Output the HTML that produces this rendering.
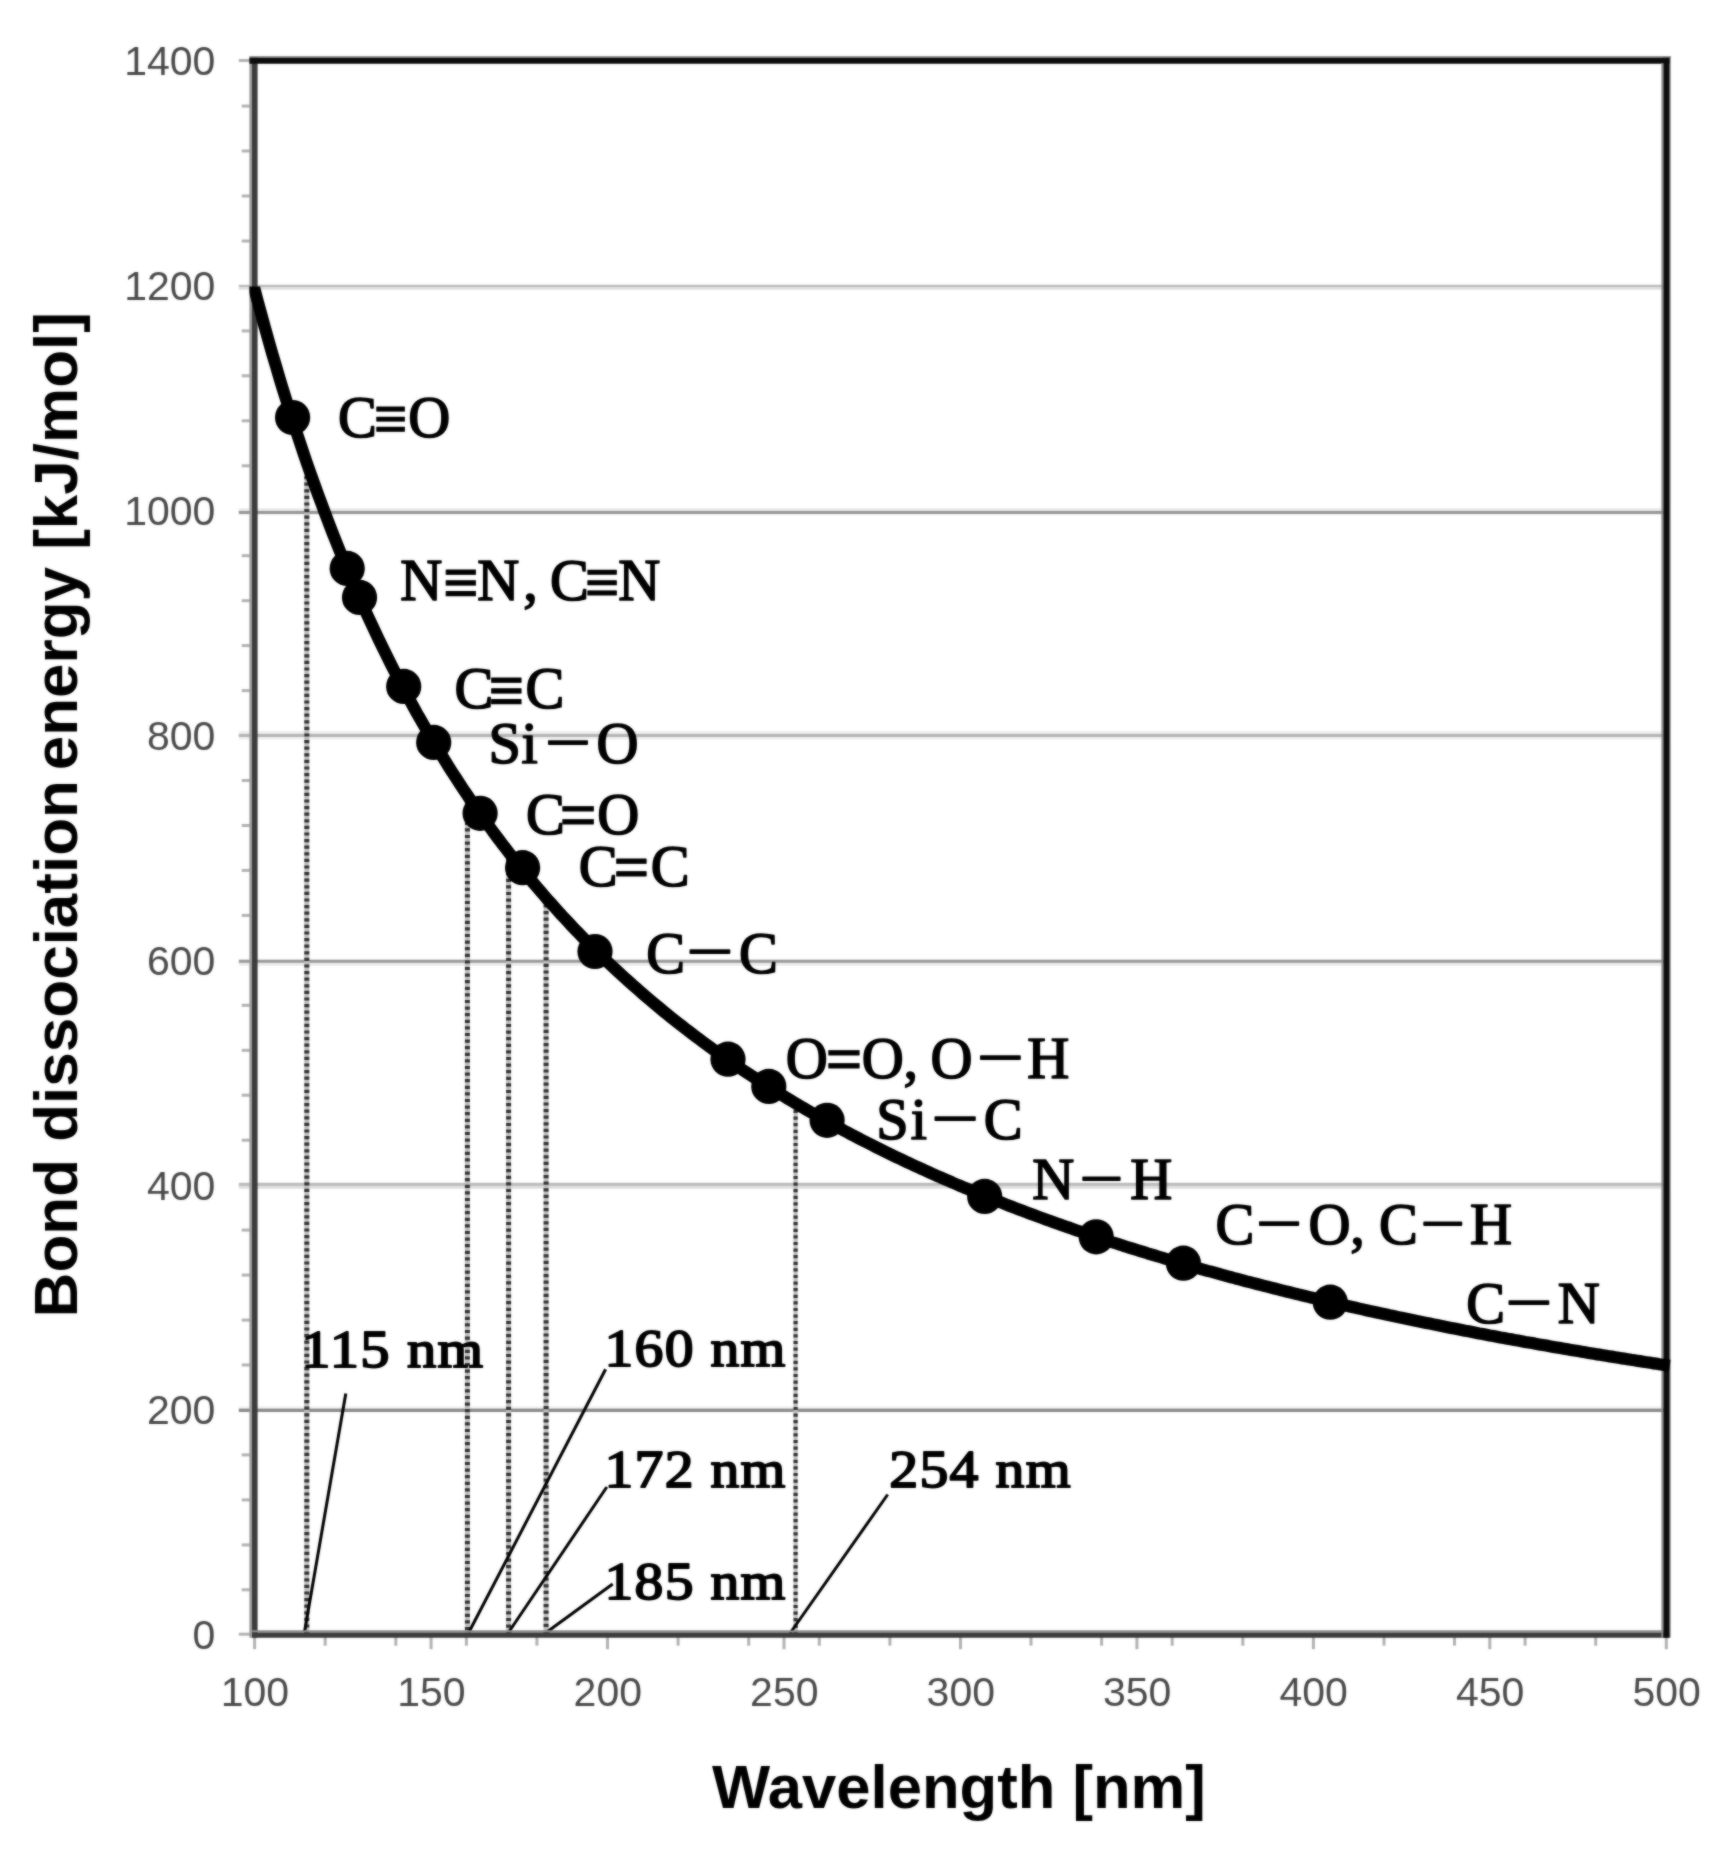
<!DOCTYPE html>
<html lang="en"><head><meta charset="utf-8"><title>Bond dissociation energy vs wavelength</title>
<style>html,body{margin:0;padding:0;background:#fff}svg{display:block}.tk{font-family:"Liberation Sans",sans-serif;font-size:41px;fill:#4a4a4a}.ttl{font-family:"Liberation Sans",sans-serif;font-weight:bold;font-size:62px;fill:#000}.bond{font-family:"Liberation Serif",serif;font-size:58.2px;fill:#000;stroke:#000;stroke-width:1.7px;stroke-linejoin:round}.nm{font-family:"Liberation Serif",serif;font-size:53px;fill:#000;stroke:#000;stroke-width:1.9px;stroke-linejoin:round}</style></head><body>
<svg width="1732" height="1856" viewBox="0 0 1732 1856">
<rect width="1732" height="1856" fill="#fff"/>
<defs><filter id="soft" x="0" y="0" width="1732" height="1856" filterUnits="userSpaceOnUse" color-interpolation-filters="sRGB"><feGaussianBlur in="SourceGraphic" stdDeviation="0.8" result="b"/><feComposite in="SourceGraphic" in2="b" operator="arithmetic" k1="0" k2="0.45" k3="0.55" k4="0"/></filter></defs>
<g id="chart" filter="url(#soft)">
<rect width="1732" height="1856" fill="#fff"/>
<g id="grid">
<rect x="238.8" y="1406.2" width="1427.5" height="2.4" fill="#f4f4f4"/>
<rect x="238.8" y="1408.6" width="1427.5" height="3.4" fill="#8b8b8b"/>
<rect x="238.8" y="1182.8" width="1427.5" height="3.1" fill="#bababa"/>
<rect x="238.8" y="1185.9" width="1427.5" height="2.8" fill="#dedede"/>
<rect x="238.8" y="959.7" width="1427.5" height="3.2" fill="#999999"/>
<rect x="238.8" y="962.9" width="1427.5" height="2.9" fill="#ececec"/>
<rect x="238.8" y="731.0" width="1427.5" height="2.9" fill="#efefef"/>
<rect x="238.8" y="733.9" width="1427.5" height="3.1" fill="#b4b4b4"/>
<rect x="238.8" y="737.0" width="1427.5" height="2.6" fill="#efefef"/>
<rect x="238.8" y="508.0" width="1427.5" height="2.9" fill="#ededed"/>
<rect x="238.8" y="510.9" width="1427.5" height="3.2" fill="#979797"/>
<rect x="238.8" y="284.8" width="1427.5" height="2.3" fill="#bababa"/>
<rect x="238.8" y="287.1" width="1427.5" height="2.6" fill="#dedede"/>
</g>
<g id="ticks" stroke="#b2b2b2" stroke-width="3">
<line x1="238.8" x2="254.6" y1="1634.2" y2="1634.2"/>
<line x1="241.7" x2="254.6" y1="1589.8" y2="1589.8"/>
<line x1="241.7" x2="254.6" y1="1544.9" y2="1544.9"/>
<line x1="241.7" x2="254.6" y1="1499.9" y2="1499.9"/>
<line x1="241.7" x2="254.6" y1="1454.9" y2="1454.9"/>
<line x1="241.7" x2="254.6" y1="1365.0" y2="1365.0"/>
<line x1="241.7" x2="254.6" y1="1320.1" y2="1320.1"/>
<line x1="241.7" x2="254.6" y1="1275.1" y2="1275.1"/>
<line x1="241.7" x2="254.6" y1="1230.1" y2="1230.1"/>
<line x1="241.7" x2="254.6" y1="1140.2" y2="1140.2"/>
<line x1="241.7" x2="254.6" y1="1095.2" y2="1095.2"/>
<line x1="241.7" x2="254.6" y1="1050.3" y2="1050.3"/>
<line x1="241.7" x2="254.6" y1="1005.3" y2="1005.3"/>
<line x1="241.7" x2="254.6" y1="915.4" y2="915.4"/>
<line x1="241.7" x2="254.6" y1="870.4" y2="870.4"/>
<line x1="241.7" x2="254.6" y1="825.5" y2="825.5"/>
<line x1="241.7" x2="254.6" y1="780.5" y2="780.5"/>
<line x1="241.7" x2="254.6" y1="690.6" y2="690.6"/>
<line x1="241.7" x2="254.6" y1="645.6" y2="645.6"/>
<line x1="241.7" x2="254.6" y1="600.7" y2="600.7"/>
<line x1="241.7" x2="254.6" y1="555.7" y2="555.7"/>
<line x1="241.7" x2="254.6" y1="465.8" y2="465.8"/>
<line x1="241.7" x2="254.6" y1="420.8" y2="420.8"/>
<line x1="241.7" x2="254.6" y1="375.8" y2="375.8"/>
<line x1="241.7" x2="254.6" y1="330.9" y2="330.9"/>
<line x1="241.7" x2="254.6" y1="241.0" y2="241.0"/>
<line x1="241.7" x2="254.6" y1="196.0" y2="196.0"/>
<line x1="241.7" x2="254.6" y1="151.0" y2="151.0"/>
<line x1="241.7" x2="254.6" y1="106.1" y2="106.1"/>
<line x1="238.8" x2="254.6" y1="60.5" y2="60.5"/>
<line x1="254.6" x2="254.6" y1="1634.2" y2="1649.2"/>
<line x1="325.2" x2="325.2" y1="1634.2" y2="1645.7"/>
<line x1="395.8" x2="395.8" y1="1634.2" y2="1645.7"/>
<line x1="431.1" x2="431.1" y1="1634.2" y2="1649.2"/>
<line x1="466.4" x2="466.4" y1="1634.2" y2="1645.7"/>
<line x1="536.9" x2="536.9" y1="1634.2" y2="1645.7"/>
<line x1="607.5" x2="607.5" y1="1634.2" y2="1649.2"/>
<line x1="678.1" x2="678.1" y1="1634.2" y2="1645.7"/>
<line x1="748.7" x2="748.7" y1="1634.2" y2="1645.7"/>
<line x1="784.0" x2="784.0" y1="1634.2" y2="1649.2"/>
<line x1="819.3" x2="819.3" y1="1634.2" y2="1645.7"/>
<line x1="889.9" x2="889.9" y1="1634.2" y2="1645.7"/>
<line x1="960.5" x2="960.5" y1="1634.2" y2="1649.2"/>
<line x1="1031.0" x2="1031.0" y1="1634.2" y2="1645.7"/>
<line x1="1101.6" x2="1101.6" y1="1634.2" y2="1645.7"/>
<line x1="1136.9" x2="1136.9" y1="1634.2" y2="1649.2"/>
<line x1="1172.2" x2="1172.2" y1="1634.2" y2="1645.7"/>
<line x1="1242.8" x2="1242.8" y1="1634.2" y2="1645.7"/>
<line x1="1313.4" x2="1313.4" y1="1634.2" y2="1649.2"/>
<line x1="1384.0" x2="1384.0" y1="1634.2" y2="1645.7"/>
<line x1="1454.5" x2="1454.5" y1="1634.2" y2="1645.7"/>
<line x1="1489.8" x2="1489.8" y1="1634.2" y2="1649.2"/>
<line x1="1525.1" x2="1525.1" y1="1634.2" y2="1645.7"/>
<line x1="1595.7" x2="1595.7" y1="1634.2" y2="1645.7"/>
<line x1="1666.3" x2="1666.3" y1="1634.2" y2="1649.2"/>
</g>
<g id="dots-under" stroke="#c2c2c2" fill="none">
<line x1="306.8" x2="306.8" y1="462.8" y2="1634.2" stroke-width="5.0"/>
<line x1="467.4" x2="467.4" y1="795.3" y2="1634.2" stroke-width="5.0"/>
<line x1="508.6" x2="508.6" y1="852.3" y2="1634.2" stroke-width="5.0"/>
<line x1="546.1" x2="546.1" y1="897.8" y2="1634.2" stroke-width="5.0"/>
<line x1="795.6" x2="795.6" y1="1103.3" y2="1634.2" stroke-width="4.2"/>
</g>
<g id="dots" stroke="#303030" stroke-dasharray="3.2 3.4" fill="none">
<line x1="306.8" x2="306.8" y1="462.8" y2="1634.2" stroke-width="5.0"/>
<line x1="467.4" x2="467.4" y1="795.3" y2="1634.2" stroke-width="5.0"/>
<line x1="508.6" x2="508.6" y1="852.3" y2="1634.2" stroke-width="5.0"/>
<line x1="546.1" x2="546.1" y1="897.8" y2="1634.2" stroke-width="5.0"/>
<line x1="795.6" x2="795.6" y1="1103.3" y2="1634.2" stroke-width="4.2"/>
</g>
<g id="leaders" stroke="#000" stroke-width="3" stroke-linecap="butt">
<line x1="345.8" y1="1393.5" x2="304.5" y2="1632"/>
<line x1="605.6" y1="1369.3" x2="469" y2="1632"/>
<line x1="606.8" y1="1487" x2="508.8" y2="1632"/>
<line x1="612.7" y1="1584" x2="546.9" y2="1632"/>
<line x1="887.7" y1="1494.5" x2="790.2" y2="1633"/>
</g>
<g id="frame" fill="none">
<line x1="250.7" x2="250.7" y1="57.5" y2="1637.7" stroke="#9a9a9a" stroke-width="2.6"/>
<line x1="254.8" x2="254.8" y1="57.5" y2="1637.7" stroke="#3c3c3c" stroke-width="5.6"/>
<line x1="252" x2="1669.3" y1="1631.4" y2="1631.4" stroke="#8c8c8c" stroke-width="2.4"/>
<line x1="252" x2="1669.3" y1="1635.1" y2="1635.1" stroke="#3c3c3c" stroke-width="5.2"/>
<line x1="249.4" x2="1671.0" y1="57.0" y2="57.0" stroke="#7a7a7a" stroke-width="1.4"/>
<line x1="249.4" x2="1671.0" y1="60.7" y2="60.7" stroke="#0c0c0c" stroke-width="6.0"/>
<line x1="1662.4" x2="1662.4" y1="63" y2="1637.7" stroke="#8a8a8a" stroke-width="2.0"/>
<line x1="1670.2" x2="1670.2" y1="57.7" y2="1637.7" stroke="#b0b0b0" stroke-width="1.6"/>
<line x1="1666.5" x2="1666.5" y1="57.7" y2="1637.7" stroke="#0c0c0c" stroke-width="6.2"/>
</g>
<clipPath id="cp"><rect x="249.4" y="286.6" width="1421.4" height="1350"/></clipPath>
<path id="dataline" clip-path="url(#cp)" d="M240.5,233.5 L244.0,247.9 L247.5,262.1 L251.1,275.9 L254.6,289.5 L258.1,302.8 L261.7,315.9 L265.2,328.7 L268.7,341.2 L272.2,353.5 L275.8,365.6 L279.3,377.5 L282.8,389.1 L286.4,400.5 L289.9,411.8 L293.4,422.8 L297.0,433.6 L300.5,444.2 L304.0,454.6 L307.5,464.9 L311.1,475.0 L314.6,484.9 L318.1,494.6 L321.7,504.2 L325.2,513.6 L328.7,522.9 L332.2,532.0 L335.8,541.0 L339.3,549.8 L342.8,558.4 L346.4,567.0 L349.9,575.4 L353.4,583.7 L356.9,591.8 L360.5,599.8 L364.0,607.7 L367.5,615.5 L371.1,623.2 L374.6,630.7 L378.1,638.1 L381.7,645.5 L385.2,652.7 L388.7,659.8 L392.2,666.8 L395.8,673.7 L399.3,680.5 L402.8,687.2 L406.4,693.9 L409.9,700.4 L413.4,706.8 L416.9,713.2 L420.5,719.4 L424.0,725.6 L427.5,731.7 L431.1,737.7 L434.6,743.7 L438.1,749.5 L441.7,755.3 L445.2,761.0 L448.7,766.7 L452.2,772.2 L455.8,777.7 L459.3,783.1 L462.8,788.5 L466.4,793.8 L469.9,799.0 L473.4,804.1 L476.9,809.2 L480.5,814.3 L484.0,819.2 L487.5,824.1 L491.1,829.0 L494.6,833.8 L498.1,838.5 L501.6,843.2 L505.2,847.8 L508.7,852.4 L512.2,856.9 L515.8,861.4 L519.3,865.8 L522.8,870.2 L526.4,874.5 L529.9,878.8 L533.4,883.0 L536.9,887.1 L540.5,891.3 L544.0,895.4 L547.5,899.4 L551.1,903.4 L554.6,907.3 L558.1,911.2 L561.6,915.1 L565.2,918.9 L568.7,922.7 L572.2,926.5 L575.8,930.2 L579.3,933.8 L582.8,937.5 L586.3,941.1 L589.9,944.6 L593.4,948.1 L596.9,951.6 L600.5,955.1 L604.0,958.5 L607.5,961.9 L611.1,965.2 L614.6,968.5 L618.1,971.8 L621.6,975.0 L625.2,978.3 L628.7,981.4 L632.2,984.6 L635.8,987.7 L639.3,990.8 L642.8,993.9 L646.3,996.9 L649.9,999.9 L653.4,1002.9 L656.9,1005.8 L660.5,1008.8 L664.0,1011.7 L667.5,1014.5 L671.1,1017.4 L674.6,1020.2 L678.1,1023.0 L681.6,1025.7 L685.2,1028.5 L688.7,1031.2 L692.2,1033.9 L695.8,1036.6 L699.3,1039.2 L702.8,1041.8 L706.3,1044.4 L709.9,1047.0 L713.4,1049.6 L716.9,1052.1 L720.5,1054.6 L724.0,1057.1 L727.5,1059.5 L731.0,1062.0 L734.6,1064.4 L738.1,1066.8 L741.6,1069.2 L745.2,1071.6 L748.7,1073.9 L752.2,1076.2 L755.8,1078.5 L759.3,1080.8 L762.8,1083.1 L766.3,1085.3 L769.9,1087.6 L773.4,1089.8 L776.9,1092.0 L780.5,1094.2 L784.0,1096.3 L787.5,1098.5 L791.0,1100.6 L794.6,1102.7 L798.1,1104.8 L801.6,1106.9 L805.2,1108.9 L808.7,1111.0 L812.2,1113.0 L815.8,1115.0 L819.3,1117.0 L822.8,1119.0 L826.3,1121.0 L829.9,1122.9 L833.4,1124.8 L836.9,1126.8 L840.5,1128.7 L844.0,1130.6 L847.5,1132.4 L851.0,1134.3 L854.6,1136.2 L858.1,1138.0 L861.6,1139.8 L865.2,1141.6 L868.7,1143.4 L872.2,1145.2 L875.7,1147.0 L879.3,1148.8 L882.8,1150.5 L886.3,1152.2 L889.9,1154.0 L893.4,1155.7 L896.9,1157.4 L900.5,1159.0 L904.0,1160.7 L907.5,1162.4 L911.0,1164.0 L914.6,1165.7 L918.1,1167.3 L921.6,1168.9 L925.2,1170.5 L928.7,1172.1 L932.2,1173.7 L935.7,1175.3 L939.3,1176.8 L942.8,1178.4 L946.3,1179.9 L949.9,1181.4 L953.4,1183.0 L956.9,1184.5 L960.5,1186.0 L964.0,1187.5 L967.5,1188.9 L971.0,1190.4 L974.6,1191.9 L978.1,1193.3 L981.6,1194.8 L985.2,1196.2 L988.7,1197.6 L992.2,1199.0 L995.7,1200.4 L999.3,1201.8 L1002.8,1203.2 L1006.3,1204.6 L1009.9,1206.0 L1013.4,1207.3 L1016.9,1208.7 L1020.4,1210.0 L1024.0,1211.3 L1027.5,1212.7 L1031.0,1214.0 L1034.6,1215.3 L1038.1,1216.6 L1041.6,1217.9 L1045.2,1219.2 L1048.7,1220.4 L1052.2,1221.7 L1055.7,1223.0 L1059.3,1224.2 L1062.8,1225.5 L1066.3,1226.7 L1069.9,1227.9 L1073.4,1229.2 L1076.9,1230.4 L1080.4,1231.6 L1084.0,1232.8 L1087.5,1234.0 L1091.0,1235.2 L1094.6,1236.4 L1098.1,1237.5 L1101.6,1238.7 L1105.1,1239.9 L1108.7,1241.0 L1112.2,1242.2 L1115.7,1243.3 L1119.3,1244.4 L1122.8,1245.6 L1126.3,1246.7 L1129.9,1247.8 L1133.4,1248.9 L1136.9,1250.0 L1140.4,1251.1 L1144.0,1252.2 L1147.5,1253.3 L1151.0,1254.3 L1154.6,1255.4 L1158.1,1256.5 L1161.6,1257.5 L1165.1,1258.6 L1168.7,1259.6 L1172.2,1260.7 L1175.7,1261.7 L1179.3,1262.7 L1182.8,1263.8 L1186.3,1264.8 L1189.9,1265.8 L1193.4,1266.8 L1196.9,1267.8 L1200.4,1268.8 L1204.0,1269.8 L1207.5,1270.8 L1211.0,1271.7 L1214.6,1272.7 L1218.1,1273.7 L1221.6,1274.7 L1225.1,1275.6 L1228.7,1276.6 L1232.2,1277.5 L1235.7,1278.5 L1239.3,1279.4 L1242.8,1280.3 L1246.3,1281.3 L1249.8,1282.2 L1253.4,1283.1 L1256.9,1284.0 L1260.4,1284.9 L1264.0,1285.8 L1267.5,1286.7 L1271.0,1287.6 L1274.6,1288.5 L1278.1,1289.4 L1281.6,1290.3 L1285.1,1291.2 L1288.7,1292.0 L1292.2,1292.9 L1295.7,1293.8 L1299.3,1294.6 L1302.8,1295.5 L1306.3,1296.3 L1309.8,1297.2 L1313.4,1298.0 L1316.9,1298.9 L1320.4,1299.7 L1324.0,1300.5 L1327.5,1301.4 L1331.0,1302.2 L1334.6,1303.0 L1338.1,1303.8 L1341.6,1304.6 L1345.1,1305.4 L1348.7,1306.2 L1352.2,1307.0 L1355.7,1307.8 L1359.3,1308.6 L1362.8,1309.4 L1366.3,1310.2 L1369.8,1311.0 L1373.4,1311.7 L1376.9,1312.5 L1380.4,1313.3 L1384.0,1314.0 L1387.5,1314.8 L1391.0,1315.6 L1394.5,1316.3 L1398.1,1317.1 L1401.6,1317.8 L1405.1,1318.5 L1408.7,1319.3 L1412.2,1320.0 L1415.7,1320.8 L1419.3,1321.5 L1422.8,1322.2 L1426.3,1322.9 L1429.8,1323.6 L1433.4,1324.4 L1436.9,1325.1 L1440.4,1325.8 L1444.0,1326.5 L1447.5,1327.2 L1451.0,1327.9 L1454.5,1328.6 L1458.1,1329.3 L1461.6,1330.0 L1465.1,1330.7 L1468.7,1331.3 L1472.2,1332.0 L1475.7,1332.7 L1479.2,1333.4 L1482.8,1334.0 L1486.3,1334.7 L1489.8,1335.4 L1493.4,1336.0 L1496.9,1336.7 L1500.4,1337.4 L1504.0,1338.0 L1507.5,1338.7 L1511.0,1339.3 L1514.5,1340.0 L1518.1,1340.6 L1521.6,1341.2 L1525.1,1341.9 L1528.7,1342.5 L1532.2,1343.1 L1535.7,1343.8 L1539.2,1344.4 L1542.8,1345.0 L1546.3,1345.6 L1549.8,1346.3 L1553.4,1346.9 L1556.9,1347.5 L1560.4,1348.1 L1564.0,1348.7 L1567.5,1349.3 L1571.0,1349.9 L1574.5,1350.5 L1578.1,1351.1 L1581.6,1351.7 L1585.1,1352.3 L1588.7,1352.9 L1592.2,1353.5 L1595.7,1354.1 L1599.2,1354.6 L1602.8,1355.2 L1606.3,1355.8 L1609.8,1356.4 L1613.4,1356.9 L1616.9,1357.5 L1620.4,1358.1 L1623.9,1358.6 L1627.5,1359.2 L1631.0,1359.8 L1634.5,1360.3 L1638.1,1360.9 L1641.6,1361.4 L1645.1,1362.0 L1648.7,1362.5 L1652.2,1363.1 L1655.7,1363.6 L1659.2,1364.2 L1662.8,1364.7 L1666.3,1365.3 L1669.8,1365.8" fill="none" stroke="#000" stroke-width="12.2" stroke-linejoin="round" stroke-linecap="butt"/>
<g id="markers" fill="#000">
<circle cx="292.6" cy="417.5" r="17.6"/>
<circle cx="347.2" cy="568.4" r="17.6"/>
<circle cx="359.5" cy="597.4" r="17.6"/>
<circle cx="403.7" cy="686.4" r="17.6"/>
<circle cx="433.7" cy="742.4" r="17.6"/>
<circle cx="480.1" cy="813.3" r="17.6"/>
<circle cx="522.6" cy="867.7" r="17.6"/>
<circle cx="595.0" cy="951.5" r="17.6"/>
<circle cx="728.0" cy="1059.2" r="17.6"/>
<circle cx="768.8" cy="1086.4" r="17.6"/>
<circle cx="827.1" cy="1120.3" r="17.6"/>
<circle cx="984.7" cy="1196.4" r="17.6"/>
<circle cx="1096.2" cy="1236.8" r="17.6"/>
<circle cx="1183.4" cy="1263.2" r="17.6"/>
<circle cx="1330.3" cy="1302.2" r="17.6"/>
</g>
<g id="ylabels" class="tk" text-anchor="end">
<text x="215.4" y="1649.1">0</text>
<text x="215.4" y="1424.3">200</text>
<text x="215.4" y="1199.5">400</text>
<text x="215.4" y="974.7">600</text>
<text x="215.4" y="749.8">800</text>
<text x="215.4" y="525.0">1000</text>
<text x="215.4" y="300.2">1200</text>
<text x="215.4" y="75.4">1400</text>
</g>
<g id="xlabels" class="tk" text-anchor="middle">
<text x="254.9" y="1705.8">100</text>
<text x="431.4" y="1705.8">150</text>
<text x="607.8" y="1705.8">200</text>
<text x="784.3" y="1705.8">250</text>
<text x="960.8" y="1705.8">300</text>
<text x="1137.2" y="1705.8">350</text>
<text x="1313.7" y="1705.8">400</text>
<text x="1490.1" y="1705.8">450</text>
<text x="1666.6" y="1705.8">500</text>
</g>
<text id="xtitle" class="ttl" transform="translate(712,1807.6) scale(0.9935,1)" x="0" y="0">Wavelength [nm]</text>
<text id="ytitle" class="ttl" transform="translate(77,1313.2) rotate(-90)" x="-4.2" y="0">Bond dissociation<tspan dx="-7.5"> energy [kJ/mol]</tspan></text>
<g id="bonds" class="bond">
<text y="436.9"><tspan x="338.0" y="436.9">C</tspan><tspan x="373.8" y="439.2" font-size="59.8" font-weight="bold" stroke-width="0.8">≡</tspan><tspan x="408.2" y="436.9">O</tspan></text>
<text y="600.0"><tspan x="400.3" y="600.0">N</tspan><tspan x="442.9" y="603.5" font-size="63.5" font-weight="bold" stroke-width="0.8">≡</tspan><tspan x="477.3" y="600.0">N</tspan><tspan x="523.2" y="600.0">,</tspan><tspan x="550.0" y="600.0">C</tspan><tspan x="584.8" y="602.8" font-size="61.5" font-weight="bold" stroke-width="0.8">≡</tspan><tspan x="618.2" y="600.0">N</tspan></text>
<text y="708.1"><tspan x="454.6" y="708.1">C</tspan><tspan x="488.5" y="711.6" font-size="63.5" font-weight="bold" stroke-width="0.8">≡</tspan><tspan x="525.6" y="708.1">C</tspan></text>
<text y="763.3"><tspan x="488.6" y="763.3">S</tspan><tspan x="521.6" y="763.3">i</tspan><tspan x="549.2" y="752.0" font-size="37.5" font-weight="bold" stroke-width="2.0">—</tspan><tspan x="596.6" y="763.3">O</tspan></text>
<text y="833.8"><tspan x="526.0" y="833.8">C</tspan><tspan x="559.6" y="837.1" font-size="66.0" font-weight="bold" stroke-width="0.8">=</tspan><tspan x="597.2" y="833.8">O</tspan></text>
<text y="886.3"><tspan x="578.8" y="886.3">C</tspan><tspan x="613.5" y="888.8" font-size="63.5" font-weight="bold" stroke-width="0.8">=</tspan><tspan x="650.7" y="886.3">C</tspan></text>
<text y="972.5"><tspan x="646.3" y="972.5">C</tspan><tspan x="690.7" y="961.4" font-size="38.3" font-weight="bold" stroke-width="2.0">—</tspan><tspan x="739.0" y="972.5">C</tspan></text>
<text y="1077.7"><tspan x="785.7" y="1077.7">O</tspan><tspan x="825.6" y="1080.8" font-size="65.4" font-weight="bold" stroke-width="0.8">=</tspan><tspan x="861.8" y="1077.7">O</tspan><tspan x="903.5" y="1077.7">,</tspan><tspan x="930.5" y="1077.7">O</tspan><tspan x="981.2" y="1066.6" font-size="38.3" font-weight="bold" stroke-width="2.0">—</tspan><tspan x="1027.3" y="1077.7">H</tspan></text>
<text y="1139.3"><tspan x="876.2" y="1139.3">S</tspan><tspan x="910.8" y="1139.3">i</tspan><tspan x="935.7" y="1128.3" font-size="38.8" font-weight="bold" stroke-width="2.0">—</tspan><tspan x="983.8" y="1139.3">C</tspan></text>
<text y="1199.0"><tspan x="1032.2" y="1199.0">N</tspan><tspan x="1083.6" y="1187.4" font-size="35.9" font-weight="bold" stroke-width="2.0">—</tspan><tspan x="1130.3" y="1199.0">H</tspan></text>
<text y="1243.8"><tspan x="1215.5" y="1243.8">C</tspan><tspan x="1260.2" y="1232.6" font-size="37.7" font-weight="bold" stroke-width="2.0">—</tspan><tspan x="1308.5" y="1243.8">O</tspan><tspan x="1350.3" y="1243.8">,</tspan><tspan x="1379.0" y="1243.8">C</tspan><tspan x="1424.6" y="1232.3" font-size="36.5" font-weight="bold" stroke-width="2.0">—</tspan><tspan x="1470.1" y="1243.8">H</tspan></text>
<text y="1323.4"><tspan x="1466.2" y="1323.4">C</tspan><tspan x="1509.7" y="1312.3" font-size="38.3" font-weight="bold" stroke-width="2.0">—</tspan><tspan x="1557.7" y="1323.4">N</tspan></text>
</g>
<g id="nmlabels" class="nm">
<text transform="translate(306.4,1367.0) scale(1.1063,1)" x="-4.7" y="0" letter-spacing="1.2">115 nm</text>
<text transform="translate(609.5,1366.4) scale(1.0877,1)" x="-4.7" y="0" letter-spacing="1.2">160 nm</text>
<text transform="translate(609.5,1486.6) scale(1.0877,1)" x="-4.7" y="0" letter-spacing="1.2">172 nm</text>
<text transform="translate(609.5,1599.2) scale(1.0877,1)" x="-4.7" y="0" letter-spacing="1.2">185 nm</text>
<text transform="translate(891.7,1486.6) scale(1.0905,1)" x="-2.3" y="0" letter-spacing="1.2">254 nm</text>
</g>
</g>
</svg></body></html>
